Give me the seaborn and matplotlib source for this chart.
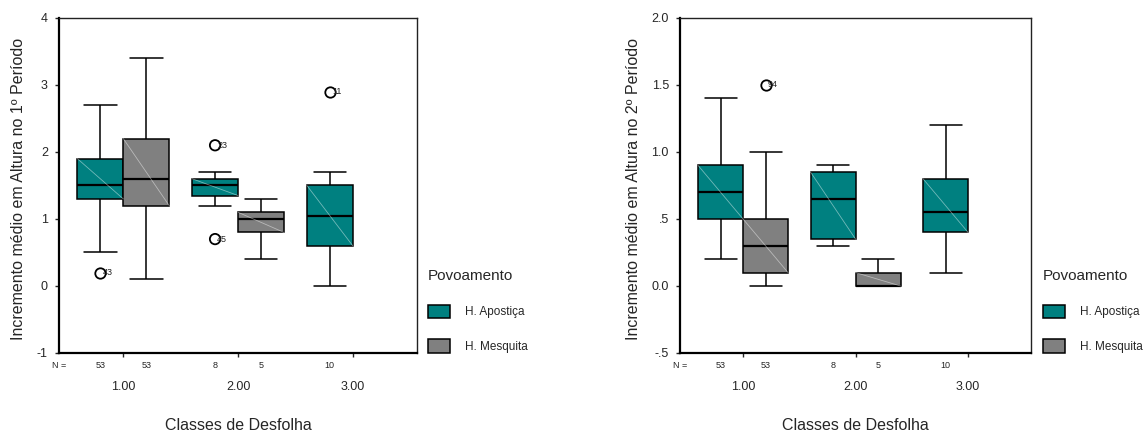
import matplotlib
matplotlib.use('Agg')
import matplotlib.pyplot as plt
import pandas as pd
import seaborn as sns

# categorias
classes = ['1.00', '2.00', '3.00']
povoamentos = ['H. Apostiça', 'H. Mesquita']
cores = {'H. Apostiça': '#008080', 'H. Mesquita': '#808080'}

# grupos (classe, povoamento) presentes nos dois gráficos
grupo_classe = ['1.00', '1.00', '2.00', '2.00', '3.00']
grupo_pov = ['H. Apostiça', 'H. Mesquita', 'H. Apostiça', 'H. Mesquita', 'H. Apostiça']
n_obs = [53, 53, 8, 5, 10]

# 1º período: resumo
p1_min = [0.5, 0.1, 1.2, 0.4, 0.0]
p1_q1 = [1.3, 1.2, 1.35, 0.8, 0.6]
p1_med = [1.5, 1.6, 1.5, 1.0, 1.05]
p1_q3 = [1.9, 2.2, 1.6, 1.1, 1.5]
p1_max = [2.7, 3.4, 1.7, 1.3, 1.7]
p1_out_classe = ['1.00', '2.00', '2.00', '3.00']
p1_out_pov = ['H. Apostiça', 'H. Apostiça', 'H. Apostiça', 'H. Apostiça']
p1_out_valor = [0.2, 2.1, 0.7, 2.9]
p1_out_id = ['43', '23', '45', '11']

# 2º período
p2_min = [0.2, 0.0, 0.3, 0.0, 0.1]
p2_q1 = [0.5, 0.1, 0.35, 0.0, 0.4]
p2_med = [0.7, 0.3, 0.65, 0.0, 0.55]
p2_q3 = [0.9, 0.5, 0.85, 0.1, 0.8]
p2_max = [1.4, 1.0, 0.9, 0.2, 1.2]
p2_out_classe = ['1.00']
p2_out_pov = ['H. Mesquita']
p2_out_valor = [1.5]
p2_out_id = ['94']

p1_yticks = [-1, 0, 1, 2, 3, 4]
p1_ylabels = ['-1', '0', '1', '2', '3', '4']
p2_yticks = [-0.5, 0.0, 0.5, 1.0, 1.5, 2.0]
p2_ylabels = ['-.5', '0.0', '.5', '1.0', '1.5', '2.0']


def montar(mins, q1s, meds, q3s, maxs):
    # cinco valores por grupo reproduzem exactamente quartis e extremos
    linhas = []
    for i in range(len(grupo_classe)):
        for v in (mins[i], q1s[i], meds[i], q3s[i], maxs[i]):
            linhas.append({'classe': grupo_classe[i], 'povoamento': grupo_pov[i], 'valor': v})
    return pd.DataFrame(linhas)


sns.set_style('ticks')
plt.rcParams['font.family'] = ['Liberation Sans', 'DejaVu Sans']

fig = plt.figure(figsize=(11.46, 4.32), dpi=100)
ax1 = fig.add_axes([0.0515, 0.1829, 0.3124, 0.7755])
ax2 = fig.add_axes([0.5934, 0.1829, 0.3063, 0.7755])

paineis = [
    (ax1, montar(p1_min, p1_q1, p1_med, p1_q3, p1_max),
     pd.DataFrame({'classe': p1_out_classe, 'povoamento': p1_out_pov, 'valor': p1_out_valor}),
     p1_out_id, p1_yticks, p1_ylabels, 'Incremento médio em Altura no 1º Período',
     -0.092, 0.368),
    (ax2, montar(p2_min, p2_q1, p2_med, p2_q3, p2_max),
     pd.DataFrame({'classe': p2_out_classe, 'povoamento': p2_out_pov, 'valor': p2_out_valor}),
     p2_out_id, p2_yticks, p2_ylabels, 'Incremento médio em Altura no 2º Período',
     -0.111, 0.9046),
]

for ax, df, out, ids, yt, yl, ylabel, ylab_x, leg_x in paineis:
    sns.boxplot(data=df, x='classe', y='valor', hue='povoamento', order=classes,
                hue_order=povoamentos, palette=cores, saturation=1, whis=(0, 100),
                width=0.8, linecolor='black', linewidth=1.1, fliersize=0,
                medianprops={'linewidth': 1.6, 'color': 'black'}, ax=ax)

    # caps mais largas e a diagonal clara dentro de cada caixa (estilo SPSS)
    for cont in ax.containers:
        for cap in getattr(cont, 'caps', []):
            xs = cap.get_xdata()
            c = (xs[0] + xs[1]) / 2
            h = (xs[1] - xs[0]) / 2 * 1.42
            cap.set_xdata([c - h, c + h])
        for caixa in getattr(cont, 'boxes', []):
            v = caixa.get_path().vertices
            ax.plot([v[:, 0].min(), v[:, 0].max()], [v[:, 1].max(), v[:, 1].min()],
                    color='white', alpha=0.45, lw=0.6, zorder=caixa.get_zorder() + 0.1)

    sns.stripplot(data=out, x='classe', y='valor', hue='povoamento', order=classes,
                  hue_order=povoamentos, palette={p: 'white' for p in povoamentos},
                  dodge=True, jitter=False, size=7.5, edgecolor='black', linewidth=1.3,
                  legend=False, ax=ax, zorder=5)

    desloc = {povoamentos[0]: -0.2, povoamentos[1]: 0.2}
    for c, p, v, lab in zip(out['classe'], out['povoamento'], out['valor'], ids):
        ax.annotate(lab, (classes.index(c) + desloc[p], v), xytext=(1.5, 0),
                    textcoords='offset points', fontsize=6.5, va='center', ha='left',
                    color='#222222', zorder=6)

    # contagens N abaixo do eixo
    trans = ax.get_xaxis_transform()
    ax.text(0, -0.036, 'N =', transform=ax.transAxes, ha='center', va='center', fontsize=6.5)
    for c, p, n in zip(grupo_classe, grupo_pov, n_obs):
        ax.text(classes.index(c) + desloc[p], -0.036, str(n), transform=trans,
                ha='center', va='center', fontsize=6.5)

    ax.set_xlim(-0.56, 2.56)
    ax.set_ylim(yt[0], yt[-1])
    ax.set_yticks(yt)
    ax.set_yticklabels(yl)
    ax.tick_params(axis='y', labelsize=9, length=3, width=1, pad=5)
    ax.tick_params(axis='x', labelsize=9, length=3, width=1, pad=17)
    ax.set_xlabel('Classes de Desfolha', fontsize=11.5)
    ax.set_ylabel(ylabel, fontsize=11.5)
    ax.xaxis.set_label_coords(0.5, -0.194)
    ax.yaxis.set_label_coords(ylab_x, 0.49)

    for s in ['left', 'bottom']:
        ax.spines[s].set_linewidth(1.6)
        ax.spines[s].set_color('black')
    for s in ['top', 'right']:
        ax.spines[s].set_visible(True)
        ax.spines[s].set_linewidth(1.0)
        ax.spines[s].set_color('#222222')

    sns.move_legend(ax, loc='upper left', bbox_to_anchor=(leg_x, 0.39),
                    bbox_transform=fig.transFigure, frameon=False, title='Povoamento',
                    fontsize=8.5, title_fontsize=11, alignment='left', borderpad=0,
                    handlelength=1.9, handleheight=1.35, handletextpad=1.3,
                    labelspacing=1.8)

fig.savefig('out.png', dpi=100)
